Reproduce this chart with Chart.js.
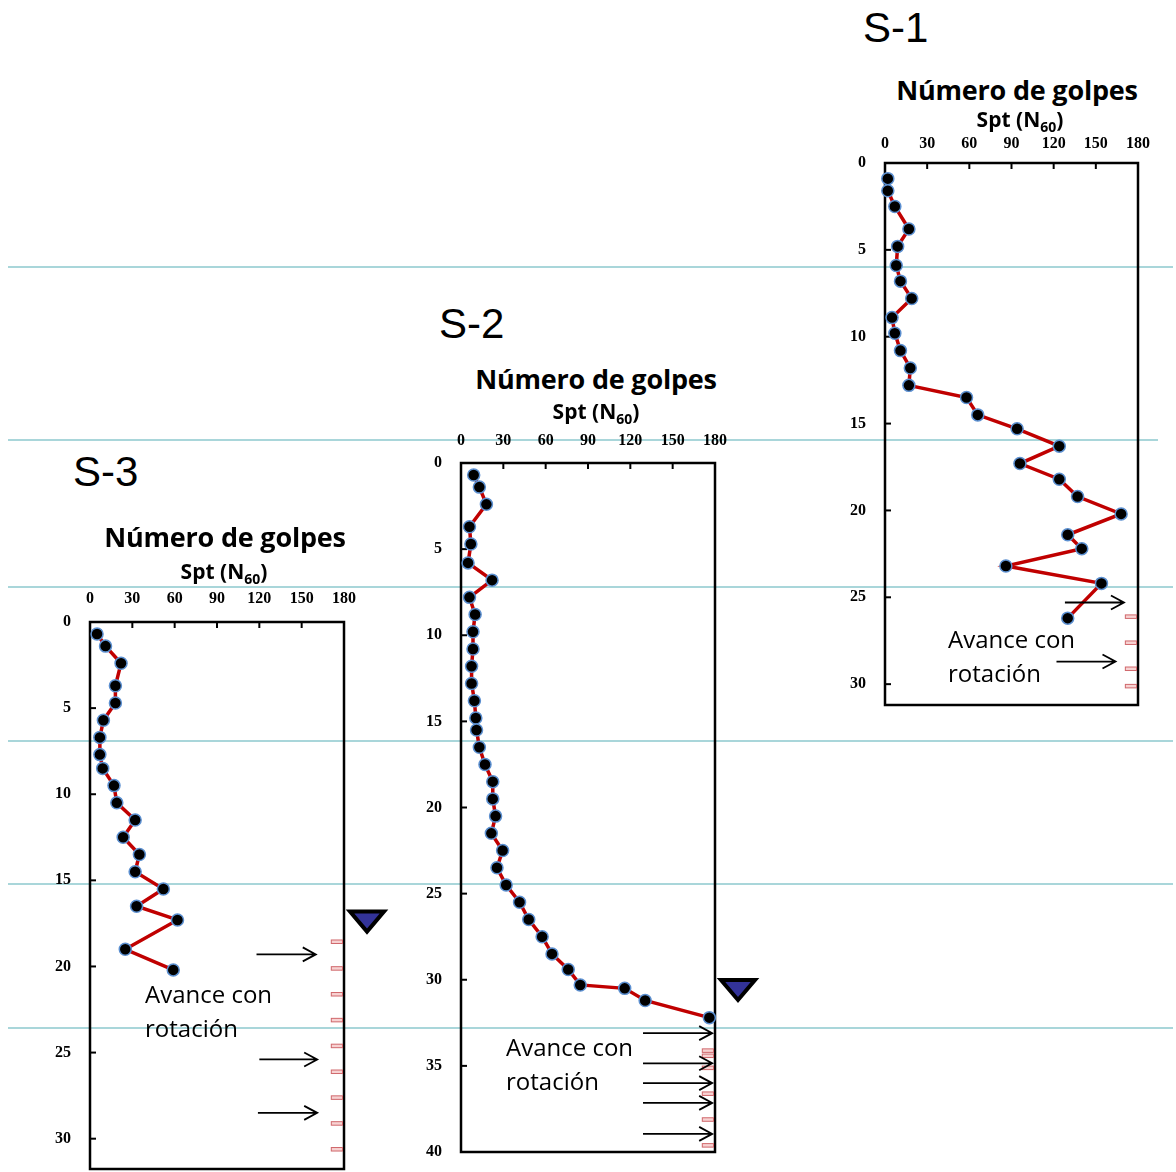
<!DOCTYPE html>
<html lang="es">
<head>
<meta charset="utf-8">
<title>Número de golpes Spt (N60) - S-1, S-2, S-3</title>
<script src="https://cdn.jsdelivr.net/npm/chart.js@4.4.1/dist/chart.umd.min.js"></script>
<style>
    body { margin: 0; width: 1176px; height: 1172px; position: relative; background: #fff; overflow: hidden; }
    .hline { position: absolute; left: 8px; height: 2px; background: #a9d6da; }
    canvas { position: absolute; }
    .sid { position: absolute; font: 42px/42px 'Liberation Sans', Arial, sans-serif; color: #000; }
    .ttl { position: absolute; width: 400px; text-align: center; font: bold 27px/27px 'Open Sans', sans-serif; color: #000; letter-spacing: -0.2px; }
    .spt { position: absolute; width: 300px; text-align: center; font: bold 21px/21px 'Open Sans', sans-serif; color: #000; }
    .spt sub { font-size: 14px; line-height: 0; vertical-align: -5px; }
    .note { position: absolute; font: 24px/34px 'Open Sans', sans-serif; color: #000; white-space: nowrap; }
</style>
</head>
<body>

<!-- light blue layer lines across the sheet -->
<div class="hline" style="top:266px; width:1165px;"></div>
<div class="hline" style="top:439px; width:1150px;"></div>
<div class="hline" style="top:586px; width:1165px;"></div>
<div class="hline" style="top:740px; width:1165px;"></div>
<div class="hline" style="top:883px; width:1165px;"></div>
<div class="hline" style="top:1027px; width:1165px;"></div>

<canvas id="s1" width="356" height="617" style="left:820px; top:118px;"></canvas>
<canvas id="s2" width="370" height="764" style="left:400px; top:418px;"></canvas>
<canvas id="s3" width="370" height="622" style="left:30px; top:577px;"></canvas>

<!-- S-1 labels -->
<div class="sid" style="left:863px; top:7px;">S-1</div>
<div class="ttl" style="left:817px; top:76px;">Número de golpes</div>
<div class="spt" style="left:870px; top:109px;">Spt (N<sub>60</sub>)</div>
<div class="note" style="left:948px; top:622px;">Avance con<br>rotación</div>

<!-- S-2 labels -->
<div class="sid" style="left:439px; top:303px;">S-2</div>
<div class="ttl" style="left:396px; top:365px;">Número de golpes</div>
<div class="spt" style="left:446px; top:401px;">Spt (N<sub>60</sub>)</div>
<div class="note" style="left:506px; top:1030px;">Avance con<br>rotación</div>

<!-- S-3 labels -->
<div class="sid" style="left:73px; top:451px;">S-3</div>
<div class="ttl" style="left:25px; top:523px;">Número de golpes</div>
<div class="spt" style="left:74px; top:561px;">Spt (N<sub>60</sub>)</div>
<div class="note" style="left:145px; top:977px;">Avance con<br>rotación</div>

<script>
// ---- data: depth (m) and N60 blow counts ----
const nTicks = [0, 30, 60, 90, 120, 150, 180];
const depthTicks30 = [0, 5, 10, 15, 20, 25, 30];
const depthTicks40 = [0, 5, 10, 15, 20, 25, 30, 35, 40];

const s1Depth = [0.9, 1.6, 2.5, 3.8, 4.8, 5.9, 6.8, 7.8, 8.9, 9.8, 10.8, 11.8, 12.8, 13.5, 14.5, 15.3, 16.3, 17.3, 18.2, 19.2, 20.2, 21.4, 22.2, 23.2, 24.2, 26.2];
const s1N     = [2, 2, 7, 17, 9, 8, 11, 19, 5, 7, 11, 18, 17, 58, 66, 94, 124, 96, 124, 137, 168, 130, 140, 86, 154, 130];

const s2Depth = [0.7, 1.4, 2.4, 3.7, 4.7, 5.8, 6.8, 7.8, 8.8, 9.8, 10.8, 11.8, 12.8, 13.8, 14.8, 15.5, 16.5, 17.5, 18.5, 19.5, 20.5, 21.5, 22.5, 23.5, 24.5, 25.5, 26.5, 27.5, 28.5, 29.4, 30.3, 30.5, 31.2, 32.2];
const s2N     = [9, 13, 18, 6, 7, 5, 22, 6, 10, 8.5, 8.5, 7.5, 7.5, 9.5, 10.5, 11, 13, 17, 22.5, 22.5, 24.5, 21.5, 29.5, 25.5, 32, 41.5, 48, 57.5, 64.5, 76, 84.5, 116, 130.5, 176];

const s3Depth = [0.7, 1.4, 2.4, 3.7, 4.7, 5.7, 6.7, 7.7, 8.5, 9.5, 10.5, 11.5, 12.5, 13.5, 14.5, 15.5, 16.5, 17.3, 19.0, 20.2];
const s3N     = [5, 11, 22, 18, 18, 9.5, 7, 7, 9, 17, 19, 32, 23.5, 35, 32, 52, 33, 62, 25, 59];

// small red marks at the right edge (depth, m)
const s1Marks = [26.1, 27.6, 29.1, 30.1];
const s2Marks = [34.1, 34.4, 35.1, 36.6, 38.1, 39.6];
const s3Marks = [18.55, 20.1, 21.6, 23.1, 24.6, 26.1, 27.6, 29.1, 30.6];

// arrows: [from N, to N, depth]
const s1Arrows = [[128, 170, 25.3], [122, 164, 28.7]];
const s2Arrows = [[129, 178, 33.1], [129, 178, 34.85], [129, 178, 36.0], [129, 178, 37.15], [129, 178, 38.95]];
const s3Arrows = [[118, 160, 19.3], [120, 161, 25.4], [119, 161, 28.5]];

// water table depth (m), null if not shown
const s2Water = 29.9;
const s3Water = 16.7;

// Box, inward ticks and annotations drawn with the chart's own scales
const sptDeco = {
    id: 'sptDeco',
    beforeDatasetsDraw(chart) {
        const { ctx, chartArea: a, scales: { x, y } } = chart;
        ctx.save();
        ctx.strokeStyle = '#000';
        ctx.lineWidth = 2.5;
        ctx.strokeRect(a.left, a.top, a.right - a.left, a.bottom - a.top);
        ctx.lineWidth = 2;
        x.ticks.forEach(t => {
            const px = x.getPixelForValue(t.value);
            ctx.beginPath(); ctx.moveTo(px, a.top); ctx.lineTo(px, a.top + 6); ctx.stroke();
        });
        y.ticks.forEach(t => {
            const py = y.getPixelForValue(t.value);
            ctx.beginPath(); ctx.moveTo(a.left, py); ctx.lineTo(a.left + 6, py); ctx.stroke();
        });
        ctx.restore();
    },
    afterDatasetsDraw(chart, args, opts) {
        const { ctx, chartArea: a, scales: { x, y } } = chart;
        ctx.save();
        // red marks
        ctx.lineWidth = 1;
        ctx.strokeStyle = '#d0686c';
        ctx.fillStyle = '#f7d2d2';
        (opts.marks || []).forEach(d => {
            const py = y.getPixelForValue(d);
            const x0 = x.getPixelForValue(171);
            ctx.fillRect(x0, py - 1.5, a.right - 1.5 - x0, 3.5);
            ctx.strokeRect(x0, py - 1.5, a.right - 1.5 - x0, 3.5);
        });
        // arrows
        ctx.strokeStyle = '#000';
        ctx.lineWidth = 1.8;
        (opts.arrows || []).forEach(([n0, n1, d]) => {
            const py = y.getPixelForValue(d);
            const p0 = x.getPixelForValue(n0), p1 = x.getPixelForValue(n1);
            ctx.beginPath();
            ctx.moveTo(p0, py); ctx.lineTo(p1, py);
            ctx.moveTo(p1 - 13, py - 7); ctx.lineTo(p1, py); ctx.lineTo(p1 - 13, py + 7);
            ctx.stroke();
        });
        // water table triangle
        if (opts.water != null) {
            const top = y.getPixelForValue(opts.water) + 2;
            const cx = a.right + 23;
            ctx.beginPath();
            ctx.moveTo(cx - 17, top); ctx.lineTo(cx + 17, top); ctx.lineTo(cx, top + 20); ctx.closePath();
            ctx.fillStyle = '#333399';
            ctx.fill();
            ctx.lineWidth = 4;
            ctx.lineJoin = 'miter';
            ctx.stroke();
        }
        ctx.restore();
    }
};

const tickFont = { family: "'Liberation Serif', 'Times New Roman', serif", size: 16, weight: 'bold' };

function makeChart(id, depth, n, cfg) {
    const points = n.map((v, i) => ({ x: v, y: depth[i] }));
    return new Chart(document.getElementById(id), {
        type: 'scatter',
        data: {
            datasets: [{
                data: points,
                showLine: true,
                borderColor: '#c00000',
                borderWidth: 3.5,
                pointRadius: 6,
                pointBackgroundColor: '#000',
                pointBorderColor: '#5b8fd0',
                pointBorderWidth: 1.5,
                clip: false
            }]
        },
        options: {
            responsive: false,
            animation: false,
            events: [],
            layout: { padding: { left: 0, top: 0, right: cfg.padR, bottom: 30 } },
            plugins: {
                legend: { display: false },
                tooltip: { enabled: false },
                sptDeco: { marks: cfg.marks, arrows: cfg.arrows, water: cfg.water }
            },
            scales: {
                x: {
                    type: 'linear', position: 'top', min: 0, max: 180,
                    afterBuildTicks: s => { s.ticks = nTicks.map(v => ({ value: v })); },
                    afterFit: s => { s.height = cfg.xH; },
                    grid: { display: false, drawTicks: false },
                    border: { display: false },
                    ticks: { padding: cfg.xPad, font: tickFont, color: '#000', maxRotation: 0 }
                },
                y: {
                    type: 'linear', reverse: true, min: 0, max: cfg.maxDepth,
                    afterBuildTicks: s => { s.ticks = cfg.depthTicks.map(v => ({ value: v })); },
                    afterFit: s => { s.width = cfg.yW; },
                    grid: { display: false, drawTicks: false },
                    border: { display: false },
                    ticks: { padding: 19, font: tickFont, color: '#000' }
                }
            }
        },
        plugins: [sptDeco]
    });
}

makeChart('s1', s1Depth, s1N, { xH: 45, yW: 65, padR: 38, xPad: 10, maxDepth: 31.2, depthTicks: depthTicks30, marks: s1Marks, arrows: s1Arrows, water: null });
makeChart('s2', s2Depth, s2N, { xH: 45, yW: 61, padR: 55, xPad: 13, maxDepth: 40, depthTicks: depthTicks40, marks: s2Marks, arrows: s2Arrows, water: s2Water });
makeChart('s3', s3Depth, s3N, { xH: 45, yW: 60, padR: 56, xPad: 14, maxDepth: 31.76, depthTicks: depthTicks30, marks: s3Marks, arrows: s3Arrows, water: s3Water });
</script>
</body>
</html>
